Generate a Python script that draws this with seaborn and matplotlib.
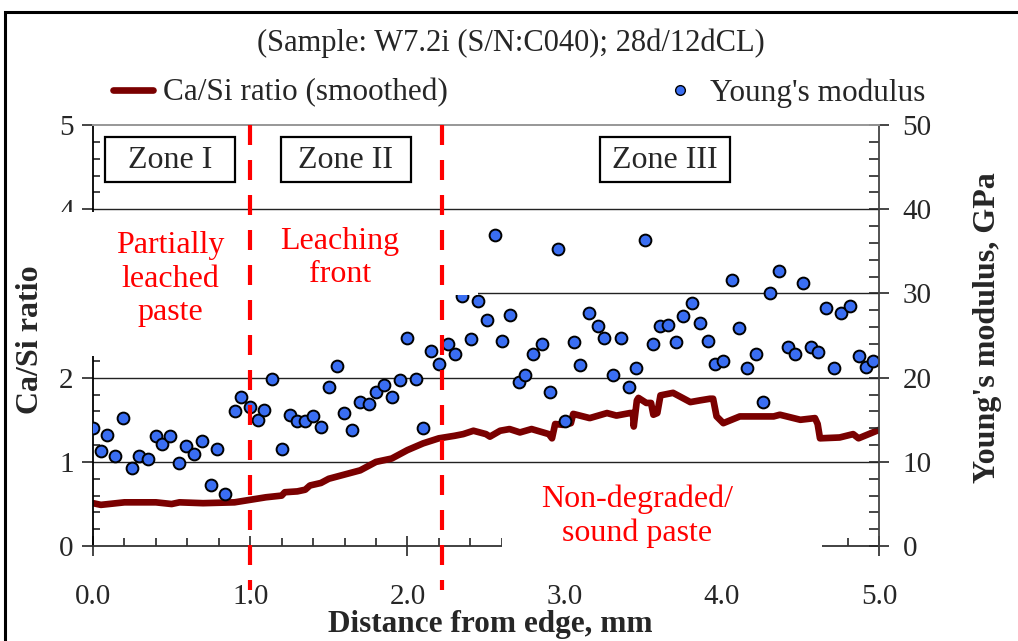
import seaborn as sns
import matplotlib.pyplot as plt
from matplotlib.lines import Line2D
from matplotlib.patches import Rectangle
from matplotlib.ticker import MultipleLocator, FormatStrFormatter

# Ca/Si ratio (smoothed), left axis
casi_x = [0.00, 0.05, 0.10, 0.20, 0.40, 0.50, 0.55, 0.70, 0.90, 1.00, 1.10, 1.20, 1.22, 1.30,
          1.35, 1.38, 1.45, 1.50, 1.60, 1.70, 1.80, 1.90, 2.00, 2.10, 2.20, 2.30, 2.355, 2.42,
          2.50, 2.525, 2.59, 2.65, 2.716, 2.79, 2.90, 2.92, 2.94, 2.99, 3.04, 3.055, 3.16, 3.27,
          3.33, 3.416, 3.435, 3.44, 3.46, 3.47, 3.52, 3.55, 3.565, 3.59, 3.61, 3.69, 3.80, 3.86,
          3.925, 3.945, 3.967, 4.01, 4.115, 4.33, 4.37, 4.50, 4.593, 4.61, 4.625, 4.75, 4.836,
          4.87, 5.00]
casi_y = [0.51, 0.49, 0.50, 0.52, 0.52, 0.50, 0.52, 0.51, 0.52, 0.55, 0.58, 0.60, 0.64, 0.65,
          0.67, 0.72, 0.75, 0.80, 0.85, 0.90, 1.00, 1.04, 1.14, 1.22, 1.28, 1.31, 1.33, 1.37,
          1.33, 1.30, 1.37, 1.39, 1.35, 1.39, 1.33, 1.28, 1.45, 1.44, 1.46, 1.57, 1.52, 1.58,
          1.55, 1.58, 1.58, 1.42, 1.73, 1.76, 1.70, 1.70, 1.56, 1.58, 1.79, 1.82, 1.71, 1.73,
          1.75, 1.75, 1.54, 1.46, 1.54, 1.54, 1.56, 1.50, 1.52, 1.45, 1.28, 1.29, 1.33, 1.28,
          1.38]

# Young's modulus (GPa), right axis
ym_x = [0.00, 0.05, 0.09, 0.14, 0.19, 0.25, 0.29, 0.35, 0.40, 0.44, 0.49, 0.545, 0.59, 0.64,
        0.695, 0.75, 0.79, 0.84, 0.90, 0.94, 1.00, 1.05, 1.09, 1.14, 1.20, 1.25, 1.295, 1.35,
        1.40, 1.45, 1.50, 1.55, 1.595, 1.65, 1.70, 1.755, 1.80, 1.85, 1.905, 1.95, 2.00, 2.055,
        2.10, 2.15, 2.20, 2.26, 2.30, 2.35, 2.405, 2.45, 2.505, 2.555, 2.60, 2.655, 2.71, 2.75,
        2.80, 2.855, 2.91, 2.955, 3.005, 3.06, 3.10, 3.155, 3.21, 3.25, 3.305, 3.36, 3.41,
        3.455, 3.51, 3.56, 3.605, 3.66, 3.71, 3.755, 3.81, 3.86, 3.915, 3.96, 4.01, 4.065,
        4.11, 4.16, 4.215, 4.26, 4.31, 4.365, 4.42, 4.465, 4.515, 4.57, 4.61, 4.665, 4.715,
        4.76, 4.815, 4.87, 4.92, 4.965]
ym_y = [14.0, 11.3, 13.2, 10.7, 15.2, 9.3, 10.7, 10.3, 13.1, 12.1, 13.1, 9.9, 11.9, 10.9,
        12.5, 7.2, 11.5, 6.2, 16.0, 17.7, 16.5, 15.0, 16.2, 19.9, 11.5, 15.6, 14.8, 14.8,
        15.4, 14.2, 18.9, 21.4, 15.8, 13.8, 17.1, 16.9, 18.3, 19.1, 17.7, 19.7, 24.7, 19.9,
        14.0, 23.2, 21.6, 24.0, 22.8, 29.7, 24.6, 29.1, 26.8, 36.9, 24.4, 27.5, 19.5, 20.3,
        22.8, 24.0, 18.3, 35.3, 14.8, 24.2, 21.5, 27.7, 26.1, 24.7, 20.3, 24.7, 18.9,
        21.1, 36.3, 24.0, 26.1, 26.3, 24.2, 27.3, 28.9, 26.5, 24.4, 21.6, 22.0, 31.6,
        25.9, 21.2, 22.8, 17.1, 30.0, 32.7, 23.6, 22.8, 31.2, 23.6, 23.0, 28.3, 21.2,
        27.7, 28.5, 22.6, 21.3, 22.0]

zone_bounds = [1.0, 2.22]
zone_names = ['Zone I', 'Zone II', 'Zone III']
zone_notes = ['Partially\nleached\npaste', 'Leaching\nfront', 'Non-degraded/\nsound paste']

sns.set_style('white')
plt.rcParams['font.family'] = ['Liberation Serif', 'DejaVu Serif']

fig = plt.figure(figsize=(10.18, 6.41), dpi=100)
ax = fig.add_axes([0.0914, 0.148, 0.772, 0.657])
ax2 = ax.twinx()

sns.lineplot(x=casi_x, y=casi_y, ax=ax, sort=False, estimator=None,
             color='#7a0000', lw=4.8, zorder=2)
sns.scatterplot(x=ym_x, y=ym_y, ax=ax2, s=72, color='#3a6ef2',
                edgecolor='black', linewidth=1.4, zorder=2)

ax.set_xlim(0, 5)
ax.set_ylim(0, 5)
ax2.set_ylim(0, 50)

for y in [1, 2, 3, 4]:
    ax.axhline(y, color='#222222', lw=1.0, zorder=0.5)

# axes styling
ax.spines['top'].set_color('#999999')
ax2.spines['top'].set_color('#999999')
ax.spines['right'].set_visible(False)
ax2.spines['left'].set_visible(False)
ax2.spines['bottom'].set_visible(False)
ax.spines['left'].set_color('black')
ax.spines['bottom'].set_color('#333333')
ax2.spines['right'].set_color('#444444')
for sp in list(ax.spines.values()) + list(ax2.spines.values()):
    sp.set_linewidth(1.3)

ax.xaxis.set_major_locator(MultipleLocator(1))
ax.xaxis.set_minor_locator(MultipleLocator(0.2))
ax.xaxis.set_major_formatter(FormatStrFormatter('%.1f'))
ax.yaxis.set_major_locator(MultipleLocator(1))
ax.yaxis.set_minor_locator(MultipleLocator(0.2))
ax2.yaxis.set_major_locator(MultipleLocator(10))
ax2.yaxis.set_minor_locator(MultipleLocator(2))

ax.tick_params(axis='x', which='major', direction='inout', length=14, width=1.2,
               labelsize=21, pad=20, bottom=True)
ax.tick_params(axis='x', which='minor', direction='in', length=6, width=1.2, bottom=True)
ax.tick_params(axis='y', which='major', direction='out', length=8, width=1.2,
               labelsize=21, pad=6, left=True)
ax.tick_params(axis='y', which='minor', direction='in', length=5, width=1.2, left=True)
ax2.tick_params(axis='y', which='major', direction='inout', length=14, width=1.2,
                labelsize=21, pad=10, right=True)
ax2.tick_params(axis='y', which='minor', direction='in', length=7, width=1.2, right=True)

ax.set_xlabel('Distance from edge, mm', fontsize=22.5, fontweight='bold')
ax.xaxis.set_label_coords(0.505, -0.152)
ax.set_ylabel('Ca/Si ratio', fontsize=23, fontweight='bold')
ax.yaxis.set_label_coords(-0.061, 0.49)
ax2.set_ylabel("Young's modulus, GPa", fontsize=23, fontweight='bold')
ax2.yaxis.set_label_coords(1.12, 0.52)

# white text-box backgrounds of the original figure
for x0, x1, y0, y1 in [(-0.305, 2.449, 29.8, 39.7), (-0.305, 0.045, 22.6, 39.7),
                       (2.60, 4.637, -4.0, 9.5)]:
    ax2.add_patch(Rectangle((x0, y0), x1 - x0, y1 - y0, facecolor='white',
                            edgecolor='none', zorder=3, clip_on=False))

# zone boundaries
for xb in zone_bounds:
    ax2.plot([xb, xb], [50, -5.2], color='#ff0000', lw=3,
             linestyle=(0, (4.8, 3.6)), zorder=4, clip_on=False)

# zone label boxes
zone_box_x = [(0.079, 0.900), (1.194, 2.021), (3.225, 4.052)]
for (x0, x1), name in zip(zone_box_x, zone_names):
    ax2.add_patch(Rectangle((x0, 43.27), x1 - x0, 5.34, facecolor='white',
                            edgecolor='black', lw=1.6, zorder=5))
    ax2.text((x0 + x1) / 2, 45.75, name, ha='center', va='center', fontsize=23, zorder=6)

note_pos = [(0.49, 31.7), (1.57, 34.2), (3.46, 3.5)]
for (nx, ny), note in zip(note_pos, zone_notes):
    ax2.text(nx, ny, note, ha='center', va='center', fontsize=23, color='#ff0000',
             linespacing=1.2, zorder=6)

# title and legend
fig.text(0.502, 0.932, '(Sample: W7.2i (S/N:C040); 28d/12dCL)', ha='center', va='center',
         fontsize=22)
handles = [Line2D([], [], color='#7a0000', lw=4.8),
           Line2D([], [], marker='o', ls='none', markersize=7, markerfacecolor='#3a6ef2',
                  markeredgecolor='black', markeredgewidth=1.0)]
fig.legend(handles, ['Ca/Si ratio (smoothed)', "Young's modulus"], ncol=2,
           loc='center', bbox_to_anchor=(0.51, 0.855), frameon=False, fontsize=22.5,
           handlelength=1.3, handletextpad=0.3, columnspacing=6.8)

# outer frame
fig.patches.append(Rectangle((0.005, -0.1), 1.2, 1.0813, transform=fig.transFigure,
                             fill=False, edgecolor='black', lw=2.2))

fig.savefig('out.png', dpi=100)
